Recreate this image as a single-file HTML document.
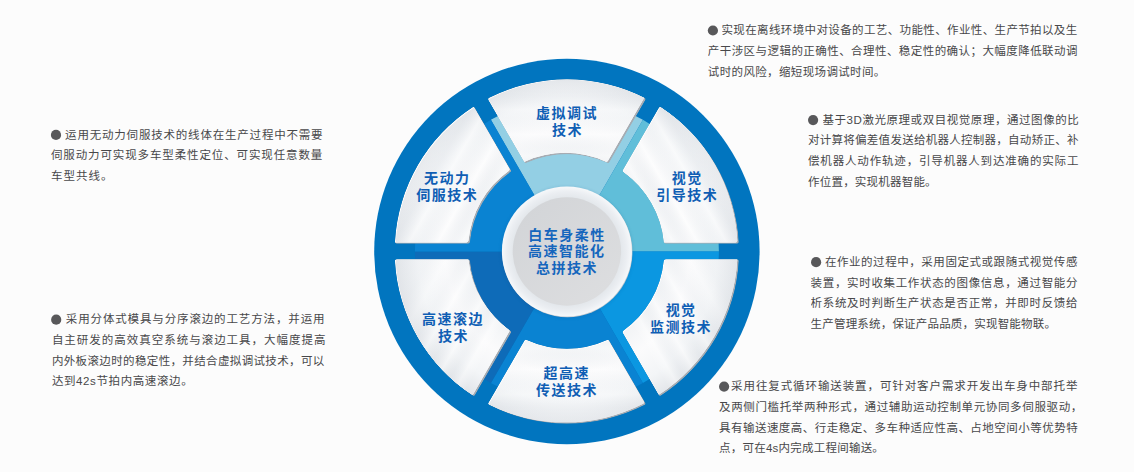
<!DOCTYPE html>
<html lang="zh-CN"><head><meta charset="utf-8"><title>白车身柔性高速智能化总拼技术</title>
<style>
html,body{margin:0;padding:0;background:#fcfcfc}
body{width:1134px;height:472px;position:relative;overflow:hidden;font-family:"Liberation Sans","Noto Sans CJK SC",sans-serif}
svg{position:absolute;left:0;top:0;display:block}
.t,.l{position:absolute;white-space:nowrap;color:#48484a;font-size:11.5px;line-height:20.65px;height:20.65px;overflow:hidden;pointer-events:none}
.l{font-size:14px;line-height:16px;height:16px;font-weight:bold;text-align:center;color:#0f5eb4;letter-spacing:1.5px;overflow:visible}
.l.c{color:#1566bd}
</style></head><body>
<svg width="1134" height="472" viewBox="0 0 1134 472">
<defs>
<linearGradient id="sg0" gradientUnits="userSpaceOnUse" x1="566.9" y1="164.7" x2="566.9" y2="68.7"><stop offset="0" stop-color="#fff" stop-opacity="0.00"/><stop offset="0.1" stop-color="#fff" stop-opacity="0.21"/><stop offset="0.2" stop-color="#dfe3e8" stop-opacity="0.10"/><stop offset="0.32" stop-color="#fff" stop-opacity="0.24"/><stop offset="0.45" stop-color="#e3e7eb" stop-opacity="0.09"/><stop offset="0.58" stop-color="#fff" stop-opacity="0.22"/><stop offset="0.72" stop-color="#e0e4e9" stop-opacity="0.09"/><stop offset="0.86" stop-color="#fff" stop-opacity="0.09"/><stop offset="1" stop-color="#dde1e6" stop-opacity="0.07"/></linearGradient><linearGradient id="sg1" gradientUnits="userSpaceOnUse" x1="642.0" y1="208.1" x2="725.2" y2="160.1"><stop offset="0" stop-color="#fff" stop-opacity="0.00"/><stop offset="0.1" stop-color="#fff" stop-opacity="0.42"/><stop offset="0.2" stop-color="#dfe3e8" stop-opacity="0.21"/><stop offset="0.32" stop-color="#fff" stop-opacity="0.48"/><stop offset="0.45" stop-color="#e3e7eb" stop-opacity="0.18"/><stop offset="0.58" stop-color="#fff" stop-opacity="0.45"/><stop offset="0.72" stop-color="#e0e4e9" stop-opacity="0.18"/><stop offset="0.86" stop-color="#fff" stop-opacity="0.18"/><stop offset="1" stop-color="#dde1e6" stop-opacity="0.15"/></linearGradient><linearGradient id="sg2" gradientUnits="userSpaceOnUse" x1="642.0" y1="342.8" x2="725.2" y2="294.8"><stop offset="0" stop-color="#fff" stop-opacity="0.00"/><stop offset="0.1" stop-color="#fff" stop-opacity="0.42"/><stop offset="0.2" stop-color="#dfe3e8" stop-opacity="0.21"/><stop offset="0.32" stop-color="#fff" stop-opacity="0.48"/><stop offset="0.45" stop-color="#e3e7eb" stop-opacity="0.18"/><stop offset="0.58" stop-color="#fff" stop-opacity="0.45"/><stop offset="0.72" stop-color="#e0e4e9" stop-opacity="0.18"/><stop offset="0.86" stop-color="#fff" stop-opacity="0.18"/><stop offset="1" stop-color="#dde1e6" stop-opacity="0.15"/></linearGradient><linearGradient id="sg3" gradientUnits="userSpaceOnUse" x1="566.9" y1="338.2" x2="566.9" y2="434.2"><stop offset="0" stop-color="#fff" stop-opacity="0.00"/><stop offset="0.1" stop-color="#fff" stop-opacity="0.21"/><stop offset="0.2" stop-color="#dfe3e8" stop-opacity="0.10"/><stop offset="0.32" stop-color="#fff" stop-opacity="0.24"/><stop offset="0.45" stop-color="#e3e7eb" stop-opacity="0.09"/><stop offset="0.58" stop-color="#fff" stop-opacity="0.22"/><stop offset="0.72" stop-color="#e0e4e9" stop-opacity="0.09"/><stop offset="0.86" stop-color="#fff" stop-opacity="0.09"/><stop offset="1" stop-color="#dde1e6" stop-opacity="0.07"/></linearGradient><linearGradient id="sg4" gradientUnits="userSpaceOnUse" x1="491.8" y1="342.8" x2="408.6" y2="294.8"><stop offset="0" stop-color="#fff" stop-opacity="0.00"/><stop offset="0.1" stop-color="#fff" stop-opacity="0.42"/><stop offset="0.2" stop-color="#dfe3e8" stop-opacity="0.21"/><stop offset="0.32" stop-color="#fff" stop-opacity="0.48"/><stop offset="0.45" stop-color="#e3e7eb" stop-opacity="0.18"/><stop offset="0.58" stop-color="#fff" stop-opacity="0.45"/><stop offset="0.72" stop-color="#e0e4e9" stop-opacity="0.18"/><stop offset="0.86" stop-color="#fff" stop-opacity="0.18"/><stop offset="1" stop-color="#dde1e6" stop-opacity="0.15"/></linearGradient><linearGradient id="sg5" gradientUnits="userSpaceOnUse" x1="491.8" y1="208.1" x2="408.6" y2="160.1"><stop offset="0" stop-color="#fff" stop-opacity="0.00"/><stop offset="0.1" stop-color="#fff" stop-opacity="0.42"/><stop offset="0.2" stop-color="#dfe3e8" stop-opacity="0.21"/><stop offset="0.32" stop-color="#fff" stop-opacity="0.48"/><stop offset="0.45" stop-color="#e3e7eb" stop-opacity="0.18"/><stop offset="0.58" stop-color="#fff" stop-opacity="0.45"/><stop offset="0.72" stop-color="#e0e4e9" stop-opacity="0.18"/><stop offset="0.86" stop-color="#fff" stop-opacity="0.18"/><stop offset="1" stop-color="#dde1e6" stop-opacity="0.15"/></linearGradient><radialGradient id="sr" gradientUnits="userSpaceOnUse" cx="566.9" cy="251.4" r="172.2"><stop offset="0.565" stop-color="#f2f4f6"/><stop offset="0.708" stop-color="#fbfbfc"/><stop offset="0.871" stop-color="#f3f5f7"/><stop offset="1" stop-color="#e2e5e9"/></radialGradient>
<path id="s0" d="M609.58 162.02L645.30 100.16Q646.20 98.60 644.60 97.78A172.2 172.2 0 0 0 489.20 97.78Q487.60 98.60 488.50 100.16L524.22 162.02Q525.12 163.58 526.75 162.82A97.3 97.3 0 0 1 607.05 162.82Q608.68 163.58 609.58 162.02z"/><clipPath id="c0"><use href="#s0"/></clipPath><clipPath id="d0"><use href="#s0" transform="translate(-1.6 -1.3)"/></clipPath><path id="s1" d="M665.69 243.70L737.13 243.70Q738.93 243.70 738.84 241.90A172.2 172.2 0 0 0 661.14 107.32Q659.62 106.35 658.72 107.91L623.01 169.77Q622.11 171.33 623.58 172.36A97.3 97.3 0 0 1 663.73 241.91Q663.89 243.70 665.69 243.70z"/><clipPath id="c1"><use href="#s1"/></clipPath><clipPath id="d1"><use href="#s1" transform="translate(-1.6 -1.3)"/></clipPath><path id="s2" d="M623.01 333.13L658.72 394.99Q659.62 396.55 661.14 395.58A172.2 172.2 0 0 0 738.84 261.00Q738.93 259.20 737.13 259.20L665.69 259.20Q663.89 259.20 663.73 260.99A97.3 97.3 0 0 1 623.58 330.54Q622.11 331.57 623.01 333.13z"/><clipPath id="c2"><use href="#s2"/></clipPath><clipPath id="d2"><use href="#s2" transform="translate(-1.6 -1.3)"/></clipPath><path id="s3" d="M524.22 340.88L488.50 402.74Q487.60 404.30 489.20 405.12A172.2 172.2 0 0 0 644.60 405.12Q646.20 404.30 645.30 402.74L609.58 340.88Q608.68 339.32 607.05 340.08A97.3 97.3 0 0 1 526.75 340.08Q525.12 339.32 524.22 340.88z"/><clipPath id="c3"><use href="#s3"/></clipPath><clipPath id="d3"><use href="#s3" transform="translate(-1.6 -1.3)"/></clipPath><path id="s4" d="M468.11 259.20L396.67 259.20Q394.87 259.20 394.96 261.00A172.2 172.2 0 0 0 472.66 395.58Q474.18 396.55 475.08 394.99L510.79 333.13Q511.69 331.57 510.22 330.54A97.3 97.3 0 0 1 470.07 260.99Q469.91 259.20 468.11 259.20z"/><clipPath id="c4"><use href="#s4"/></clipPath><clipPath id="d4"><use href="#s4" transform="translate(-1.6 -1.3)"/></clipPath><path id="s5" d="M510.79 169.77L475.08 107.91Q474.18 106.35 472.66 107.32A172.2 172.2 0 0 0 394.96 241.90Q394.87 243.70 396.67 243.70L468.11 243.70Q469.91 243.70 470.07 241.91A97.3 97.3 0 0 1 510.22 172.36Q511.69 171.33 510.79 169.77z"/><clipPath id="c5"><use href="#s5"/></clipPath><clipPath id="d5"><use href="#s5" transform="translate(-1.6 -1.3)"/></clipPath>
<radialGradient id="ring" cx="50%" cy="50%" r="50%"><stop offset="0.83" stop-color="#e3e7eb"/><stop offset="0.92" stop-color="#ebeef2"/><stop offset="1" stop-color="#f6f8fa"/></radialGradient>
<linearGradient id="disc" x1="0.15" y1="0.1" x2="0.85" y2="0.9"><stop offset="0" stop-color="#d3d5d8"/><stop offset="1" stop-color="#dcdddf"/></linearGradient>
<filter id="sh" x="-10%" y="-10%" width="120%" height="120%"><feGaussianBlur stdDeviation="1.6"/></filter>
</defs>
<rect width="1134" height="472" fill="#fcfcfc"/>
<circle cx="566.9" cy="251.45" r="192.7" fill="#0175bf"/>
<path d="M566.90 251.45L642.90 119.81A152.0 152.0 0 0 0 490.90 119.81z" fill="#93cfe4"/><path d="M566.90 251.45L718.90 251.45A152.0 152.0 0 0 0 642.90 119.81z" fill="#60bed9"/><path d="M566.90 251.45L642.90 383.09A152.0 152.0 0 0 0 718.90 251.45z" fill="#0b97e1"/><path d="M566.90 251.45L490.90 383.09A152.0 152.0 0 0 0 642.90 383.09z" fill="#0a83d2"/><path d="M566.90 251.45L414.90 251.45A152.0 152.0 0 0 0 490.90 383.09z" fill="#0e6bb8"/><path d="M566.90 251.45L490.90 119.81A152.0 152.0 0 0 0 414.90 251.45z" fill="#0a83d2"/>
<g><g clip-path="url(#c0)"><use href="#s0" fill="#a6acb3"/><g clip-path="url(#d0)"><use href="#s0" fill="#fff"/><g transform="translate(.8 .6)"><use href="#s0" fill="url(#sr)"/><use href="#s0" fill="url(#sg0)"/></g></g></g><g clip-path="url(#c1)"><use href="#s1" fill="#a6acb3"/><g clip-path="url(#d1)"><use href="#s1" fill="#fff"/><g transform="translate(.8 .6)"><use href="#s1" fill="url(#sr)"/><use href="#s1" fill="url(#sg1)"/></g></g></g><g clip-path="url(#c2)"><use href="#s2" fill="#a6acb3"/><g clip-path="url(#d2)"><use href="#s2" fill="#fff"/><g transform="translate(.8 .6)"><use href="#s2" fill="url(#sr)"/><use href="#s2" fill="url(#sg2)"/></g></g></g><g clip-path="url(#c3)"><use href="#s3" fill="#a6acb3"/><g clip-path="url(#d3)"><use href="#s3" fill="#fff"/><g transform="translate(.8 .6)"><use href="#s3" fill="url(#sr)"/><use href="#s3" fill="url(#sg3)"/></g></g></g><g clip-path="url(#c4)"><use href="#s4" fill="#a6acb3"/><g clip-path="url(#d4)"><use href="#s4" fill="#fff"/><g transform="translate(.8 .6)"><use href="#s4" fill="url(#sr)"/><use href="#s4" fill="url(#sg4)"/></g></g></g><g clip-path="url(#c5)"><use href="#s5" fill="#a6acb3"/><g clip-path="url(#d5)"><use href="#s5" fill="#fff"/><g transform="translate(.8 .6)"><use href="#s5" fill="url(#sr)"/><use href="#s5" fill="url(#sg5)"/></g></g></g></g>
<circle cx="566.9" cy="252.45" r="66.5" fill="#0b3f78" opacity=".1" filter="url(#sh)"/>
<circle cx="567.4" cy="252.14999999999998" r="65.0" fill="#c3c8ce"/>
<circle cx="566.9" cy="251.45" r="65.0" fill="url(#ring)"/>
<circle cx="566.9" cy="251.45" r="54.2" fill="url(#disc)"/>
<g fill="#48484a"><circle cx="712.9" cy="30.5" r="5.1" fill="#58585a"/><circle cx="813.1" cy="120.1" r="5.1" fill="#58585a"/><circle cx="816.1" cy="262.2" r="5.1" fill="#58585a"/><circle cx="724.1" cy="386.6" r="5.1" fill="#58585a"/><circle cx="56.0" cy="134.9" r="5.1" fill="#58585a"/><circle cx="56.2" cy="319.7" r="5.1" fill="#58585a"/></g>
</svg>
<div class="l" style="left:535.8px;top:105.0px;width:62.5px">虚拟调试</div><div class="l" style="left:552.0px;top:122.2px;width:30.3px">技术</div><div class="l" style="left:671.4px;top:170.1px;width:31.7px">视觉</div><div class="l" style="left:656.1px;top:187.4px;width:62.4px">引导技术</div><div class="l" style="left:665.2px;top:301.9px;width:31.9px">视觉</div><div class="l" style="left:649.6px;top:319.1px;width:62.8px">监测技术</div><div class="l" style="left:543.0px;top:365.1px;width:47.7px">超高速</div><div class="l" style="left:535.4px;top:381.9px;width:63.1px">传送技术</div><div class="l" style="left:420.8px;top:311.3px;width:64.6px">高速滚边</div><div class="l" style="left:437.9px;top:328.1px;width:30.2px">技术</div><div class="l" style="left:424.0px;top:170.1px;width:46.4px">无动力</div><div class="l" style="left:415.8px;top:186.9px;width:62.7px">伺服技术</div><div class="l c" style="left:527.7px;top:226.9px;width:78.8px">白车身柔性</div><div class="l c" style="left:526.8px;top:243.2px;width:80.1px">高速智能化</div><div class="l c" style="left:535.7px;top:260.1px;width:62.6px">总拼技术</div>
<div class="t" style="left:721.5px;top:20.2px;letter-spacing:0.37px">实现在离线环境中对设备的工艺、功能性、作业性、生产节拍以及生</div><div class="t" style="left:707.8px;top:40.8px;letter-spacing:0.44px">产干涉区与逻辑的正确性、合理性、稳定性的确认；大幅度降低联动调</div><div class="t" style="left:707.8px;top:61.5px;letter-spacing:0.36px">试时的风险，缩短现场调试时间。</div><div class="t" style="left:822.5px;top:109.8px;letter-spacing:0.55px">基于3D激光原理或双目视觉原理，通过图像的比</div><div class="t" style="left:808.0px;top:130.4px;letter-spacing:0.27px">对计算将偏差值发送给机器人控制器，自动矫正、补</div><div class="t" style="left:808.0px;top:151.1px;letter-spacing:0.83px">偿机器人动作轨迹，引导机器人到达准确的实际工</div><div class="t" style="left:808.0px;top:171.7px;letter-spacing:0.21px">作位置，实现机器智能。</div><div class="t" style="left:824.9px;top:251.9px;letter-spacing:0.55px">在作业的过程中，采用固定式或跟随式视觉传感</div><div class="t" style="left:810.6px;top:272.5px;letter-spacing:0.66px">装置，实时收集工作状态的图像信息，通过智能分</div><div class="t" style="left:810.6px;top:293.2px;letter-spacing:0.66px">析系统及时判断生产状态是否正常，并即时反馈给</div><div class="t" style="left:810.6px;top:313.8px;letter-spacing:0.19px">生产管理系统，保证产品品质，实现智能物联。</div><div class="t" style="left:731.1px;top:376.3px;letter-spacing:0.90px">采用往复式循环输送装置，可针对客户需求开发出车身中部托举</div><div class="t" style="left:719.0px;top:397.0px;letter-spacing:0.63px">及两侧门槛托举两种形式，通过辅助运动控制单元协同多伺服驱动，</div><div class="t" style="left:719.0px;top:417.6px;letter-spacing:0.47px">具有输送速度高、行走稳定、多车种适应性高、占地空间小等优势特</div><div class="t" style="left:719.0px;top:438.3px;letter-spacing:0.23px">点，可在4s内完成工程间输送。</div><div class="t" style="left:65.1px;top:124.6px;letter-spacing:0.80px">运用无动力伺服技术的线体在生产过程中不需要</div><div class="t" style="left:50.9px;top:145.3px;letter-spacing:0.88px">伺服动力可实现多车型柔性定位、可实现任意数量</div><div class="t" style="left:50.9px;top:165.9px;letter-spacing:1.03px">车型共线。</div><div class="t" style="left:65.8px;top:309.4px;letter-spacing:0.86px">采用分体式模具与分序滚边的工艺方法，并运用</div><div class="t" style="left:51.9px;top:330.0px;letter-spacing:0.98px">自主研发的高效真空系统与滚边工具，大幅度提高</div><div class="t" style="left:51.9px;top:350.7px;letter-spacing:0.36px">内外板滚边时的稳定性，并结合虚拟调试技术，可以</div><div class="t" style="left:51.9px;top:371.3px;letter-spacing:0.60px">达到42s节拍内高速滚边。</div>
</body></html>
